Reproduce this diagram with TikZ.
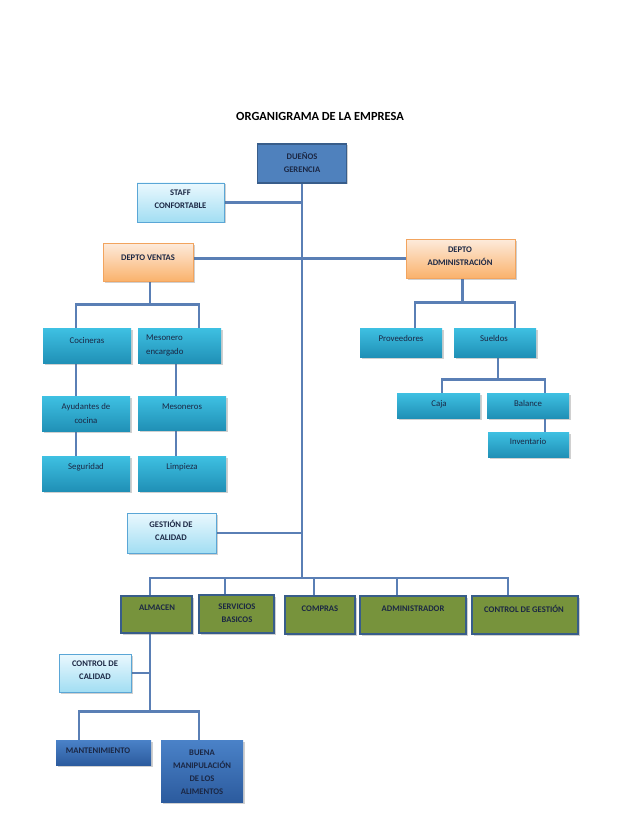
\documentclass[tikz,border=0pt]{standalone}
\usepackage{fontspec}
\setmainfont{Carlito}
\usetikzlibrary{shadows,backgrounds,calc}
\definecolor{linec}{HTML}{5A7FB5}
\definecolor{navy}{HTML}{1B2744}
\definecolor{dkbl}{HTML}{4F81BD}
\definecolor{dkbord}{HTML}{385D8A}
\definecolor{olive}{HTML}{77933C}
\definecolor{cyt}{HTML}{3EC0E2}
\definecolor{cyb}{HTML}{2090B6}
\definecolor{ltt}{HTML}{EAF8FE}
\definecolor{ltb}{HTML}{A2DEF3}
\definecolor{ltbord}{HTML}{5AA6D6}
\definecolor{ort}{HTML}{FDEBDC}
\definecolor{orb}{HTML}{FAB26C}
\definecolor{orbord}{HTML}{F2A45E}
\definecolor{bbt}{HTML}{4A82C8}
\definecolor{bbb}{HTML}{2C5B9E}
\tikzset{
  x=1pt, y=-1pt,
  conn/.style={draw=linec, line width=2.6pt},
  shad/.style={drop shadow={shadow xshift=1.5pt, shadow yshift=-1.5pt, opacity=0.3, fill=black!60}},
  basebox/.style={rectangle, inner sep=0pt, shad},
  topbox/.style={basebox, fill=dkbl, draw=dkbord, line width=1.2pt},
  lightbox/.style={basebox, top color=ltt, bottom color=ltb, draw=ltbord, line width=0.8pt},
  orbox/.style={basebox, top color=ort, bottom color=orb, draw=orbord, line width=0.6pt},
  cybox/.style={basebox, top color=cyt, bottom color=cyb},
  olbox/.style={basebox, fill=olive, draw=dkbord, line width=1.5pt},
  blbox/.style={basebox, top color=bbt, bottom color=bbb},
  btxt/.style={font=\fontsize{8.6}{13}\selectfont\bfseries, text=navy, align=center, inner sep=0pt},
  rtxt/.style={font=\fontsize{8.8}{14}\selectfont, text=navy, align=center, inner sep=0pt},
}
\newcommand{\bx}[6]{\node[#1, minimum width=#4pt, minimum height=#5pt] (#6) at (#2,#3) {};}
\begin{document}
\begin{tikzpicture}
\useasboundingbox (0,0) rectangle (638,826);
\node[font=\fontsize{12.4}{14}\selectfont\bfseries, text=black] (title) at (320,116) {ORGANIGRAMA DE LA EMPRESA};

% boxes
\bx{topbox}{302}{163.5}{89}{39}{duenos}
\bx{lightbox}{180.5}{202.5}{87}{39}{staff}
\bx{orbox}{148}{262}{90}{38}{ventas}
\bx{orbox}{460.5}{258.5}{109}{39}{admin}
\bx{cybox}{87}{346}{88}{35}{coc}
\bx{cybox}{179.5}{345.5}{83}{35}{mes}
\bx{cybox}{86}{414}{88}{35}{ayud}
\bx{cybox}{182}{413}{88}{34}{mesos}
\bx{cybox}{86}{473.5}{88}{35}{seg}
\bx{cybox}{182}{473.5}{88}{35}{limp}
\bx{cybox}{401}{342.5}{82}{29}{prov}
\bx{cybox}{495}{342.5}{82}{29}{sue}
\bx{cybox}{438.5}{405.5}{83}{25}{caja}
\bx{cybox}{528}{405.5}{82}{25}{bal}
\bx{cybox}{528.5}{444.5}{81}{25}{inv}
\bx{lightbox}{171.5}{533}{89}{40}{gestion}
\bx{olbox}{156.5}{614.5}{71}{37}{alm}
\bx{olbox}{236.5}{614}{75}{38}{serv}
\bx{olbox}{320}{615}{70}{38}{comp}
\bx{olbox}{413}{615}{106}{38}{adm}
\bx{olbox}{525}{615}{106}{38}{cg}
\bx{lightbox}{95}{673}{72}{38}{cc}
\bx{blbox}{103.5}{752.5}{95}{25}{mant}
\bx{blbox}{202}{771}{82}{62}{buena}

% texts
\node[btxt] (tduenos) at (302,162.5) {DUEÑOS\\GERENCIA};
\node[btxt] (tstaff) at (180.5,199.5) {STAFF\\CONFORTABLE};
\node[btxt] (tventas) at (148,258) {DEPTO VENTAS};
\node[btxt] (tadmin) at (460,256) {DEPTO\\ADMINISTRACIÓN};
\node[rtxt] (tcoc) at (87,341) {Cocineras};
\node[rtxt, align=left, anchor=west] (tmes) at (146,345) {Mesonero\\encargado};
\node[rtxt] (tayud) at (86,413.5) {Ayudantes de\\cocina};
\node[rtxt] (tmesos) at (182,407) {Mesoneros};
\node[rtxt] (tseg) at (86,467) {Seguridad};
\node[rtxt] (tlimp) at (182,467) {Limpieza};
\node[rtxt] (tprov) at (401,338) {Proveedores};
\node[rtxt] (tsue) at (494,338) {Sueldos};
\node[rtxt] (tcaja) at (439,404) {Caja};
\node[rtxt] (tbal) at (528,403) {Balance};
\node[rtxt] (tinv) at (528,442) {Inventario};
\node[btxt] (tgestion) at (171,530) {GESTIÓN DE\\CALIDAD};
\node[btxt] (talm) at (157,608) {ALMACEN};
\node[btxt] (tserv) at (237,613) {SERVICIOS\\BASICOS};
\node[btxt] (tcomp) at (320,609) {COMPRAS};
\node[btxt] (tadm) at (413,609) {ADMINISTRADOR};
\node[btxt] (tcg) at (524,609) {CONTROL DE GESTIÓN};
\node[btxt] (tcc) at (95,670.5) {CONTROL DE\\CALIDAD};
\node[btxt] (tmant) at (98,751) {MANTENIMIENTO};
\node[btxt] (tbuena) at (202,772.5) {BUENA\\MANIPULACIÓN\\DE LOS\\ALIMENTOS};

% connectors
\begin{pgfonlayer}{background}
\fill[white] (0,0) rectangle (638,826);
\coordinate (trunkend) at (302,578);
\draw[conn] (duenos.south) -- (trunkend);
\draw[conn] (staff.east) -- (staff.east -| duenos.south);
\draw[conn] (ventas.east |- admin.west) -- (admin.west);
% ventas subtree
\draw[conn] ([xshift=2]ventas.south) -- ++(0,23) coordinate (vj);
\draw[conn] ([xshift=-11]coc.north) |- (vj) -| ([xshift=19.5]mes.north);
\draw[conn] ([xshift=-11]coc.south) -- ([xshift=-11]coc.south |- ayud.north);
\draw[conn] ([xshift=-10]ayud.south) -- ([xshift=-10]ayud.south |- seg.north);
\draw[conn] ([xshift=-3.5]mes.south) -- ([xshift=-3.5]mes.south |- mesos.north);
\draw[conn] ([xshift=-6]mesos.south) -- ([xshift=-6]mesos.south |- limp.north);
% admin subtree
\draw[conn] ([xshift=2]admin.south) -- ++(0,24) coordinate (aj);
\draw[conn] ([xshift=14]prov.north) |- (aj) -| ([xshift=20]sue.north);
\draw[conn] ([xshift=3]sue.south) -- ++(0,22) coordinate (sj);
\draw[conn] ([xshift=3.5]caja.north) |- (sj) -| ([xshift=17]bal.north);
\draw[conn] ([xshift=17]bal.south) -- ([xshift=17]bal.south |- inv.north);
% gestion
\draw[conn] (gestion.east) -- (gestion.east -| trunkend);
% bus
\draw[conn] ([xshift=-6.5]alm.north) -- ([xshift=-6.5]alm.north |- trunkend) -- ([xshift=-17]cg.north |- trunkend) -- ([xshift=-17]cg.north);
\draw[conn] ([xshift=-11.5]serv.north) -- ([xshift=-11.5]serv.north |- trunkend);
\draw[conn] ([xshift=-6]comp.north) -- ([xshift=-6]comp.north |- trunkend);
\draw[conn] ([xshift=-16]adm.north) -- ([xshift=-16]adm.north |- trunkend);
% almacen subtree
\draw[conn] ([xshift=-6.5]alm.south) -- ++(0,78) coordinate (lj);
\draw[conn] (cc.east) -- (cc.east -| lj);
\draw[conn] ([xshift=-24.5]mant.north) |- (lj) -| ([xshift=-3]buena.north);
\end{pgfonlayer}
\end{tikzpicture}
\end{document}
